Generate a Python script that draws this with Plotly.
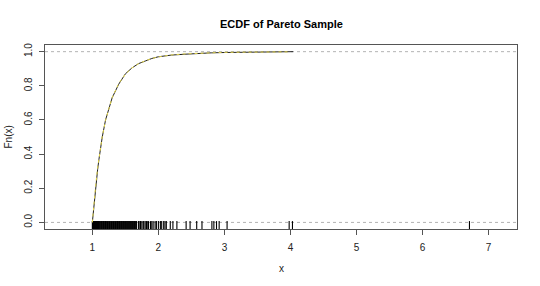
import plotly.graph_objects as go

# ECDF curve
ecdf_x = [1.0, 1.02, 1.05, 1.08, 1.10, 1.15, 1.20, 1.25, 1.30, 1.40, 1.50, 1.60,
          1.70, 1.80, 1.90, 2.00, 2.20, 2.40, 2.60, 2.80, 3.00, 3.30, 3.60, 4.04]
ecdf_y = [0.0, 0.09, 0.21, 0.31, 0.37, 0.50, 0.60, 0.67, 0.73, 0.81, 0.87, 0.905,
          0.93, 0.945, 0.96, 0.97, 0.98, 0.985, 0.99, 0.993, 0.995, 0.997, 0.998, 1.0]

# theoretical CDF overlay (yellow dashed)
cdf_x = [1.0, 1.02, 1.05, 1.08, 1.10, 1.15, 1.20, 1.25, 1.30, 1.40, 1.50, 1.60,
         1.70, 1.80, 1.90, 2.00, 2.20, 2.40, 2.60, 2.80, 3.00, 3.30, 3.60, 4.0]
cdf_y = [0.0, 0.094, 0.216, 0.319, 0.379, 0.503, 0.598, 0.672, 0.731, 0.814, 0.868, 0.905,
         0.930, 0.946, 0.960, 0.969, 0.981, 0.987, 0.991, 0.994, 0.996, 0.997, 0.998, 0.999]

# rug (sample values)
rug_x = [1.00, 1.005, 1.01, 1.015, 1.02, 1.025, 1.03, 1.035, 1.04, 1.045,
         1.05, 1.055, 1.06, 1.065, 1.07, 1.075, 1.08, 1.085, 1.09, 1.095,
         1.10, 1.11, 1.12, 1.13, 1.14, 1.15, 1.16, 1.17, 1.18, 1.19,
         1.20, 1.21, 1.22, 1.23, 1.24, 1.25, 1.26, 1.27, 1.28, 1.29,
         1.30, 1.31, 1.32, 1.33, 1.34, 1.35, 1.36, 1.37, 1.38, 1.39,
         1.40, 1.41, 1.42, 1.43, 1.44, 1.45, 1.46, 1.47, 1.48, 1.49,
         1.50, 1.51, 1.52, 1.53, 1.54, 1.55, 1.56, 1.57, 1.58, 1.59,
         1.60, 1.61, 1.62, 1.63, 1.64, 1.65, 1.66, 1.67,
         1.70, 1.72, 1.73, 1.75, 1.77, 1.78, 1.80, 1.82, 1.83, 1.85,
         1.88, 1.90, 1.92, 1.95, 1.97, 2.00, 2.03, 2.05, 2.08, 2.10, 2.12,
         2.18, 2.22, 2.28, 2.42, 2.48, 2.58, 2.66, 2.81, 2.84, 2.88, 2.92,
         3.04, 3.98, 4.03, 6.71]

x_ticks = [1, 2, 3, 4, 5, 6, 7]
y_ticks = [0.0, 0.2, 0.4, 0.6, 0.8, 1.0]
y_tick_text = ["0.0", "0.2", "0.4", "0.6", "0.8", "1.0"]

XR = [0.283, 7.43]
YR = [-0.0386, 1.039]
RUG_MID = -0.021

fig = go.Figure()

# rug as vertical tick markers
fig.add_trace(go.Scatter(x=rug_x, y=[RUG_MID] * len(rug_x), mode="markers",
                         marker=dict(symbol="line-ns-open", size=7, color="black",
                                     line=dict(color="black", width=1.1)),
                         cliponaxis=True, hoverinfo="skip"))

fig.add_trace(go.Scatter(x=ecdf_x, y=ecdf_y, mode="lines",
                         line=dict(color="#222", width=1)))
fig.add_trace(go.Scatter(x=cdf_x, y=cdf_y, mode="lines",
                         line=dict(color="#e6d84a", width=1, dash="3px,3px")))

for h in [0, 1]:
    fig.add_shape(type="line", xref="paper", x0=0, x1=1, yref="y", y0=h, y1=h,
                  line=dict(color="#b3b3b3", width=1, dash="3px,3px"), layer="below")

axis_font = dict(family="Liberation Sans, Arial, sans-serif", size=10, color="#222")

fig.update_layout(
    width=540, height=286,
    margin=dict(l=45, r=23, t=45, b=57),
    paper_bgcolor="white", plot_bgcolor="white",
    showlegend=False,
    font=axis_font,
    xaxis=dict(range=XR, tickvals=x_ticks, ticks="outside", ticklen=5,
               tickcolor="#555", showgrid=False, zeroline=False,
               showline=True, linecolor="#555", linewidth=1, mirror=True,
               tickfont=axis_font, ticklabelstandoff=4),
    yaxis=dict(range=YR, tickvals=y_ticks, ticktext=y_tick_text, ticks="outside",
               ticklen=5, tickcolor="#555", showgrid=False, zeroline=False,
               showline=True, linecolor="#555", linewidth=1, mirror=True,
               tickangle=-90, tickfont=axis_font, ticklabelstandoff=3),
    annotations=[
        dict(text="<b>ECDF of Pareto Sample</b>", xref="paper", yref="paper",
             x=0.5, y=1, yshift=29, showarrow=False,
             font=dict(family="Liberation Sans, Arial, sans-serif", size=11, color="black")),
        dict(text="x", xref="paper", yref="paper", x=0.5, y=0, yshift=-47,
             showarrow=False, font=axis_font),
        dict(text="Fn(x)", xref="paper", yref="paper", x=0, y=0.5, xshift=-45,
             textangle=-90, showarrow=False, font=axis_font),
    ],
)

fig.write_html("out.html")
